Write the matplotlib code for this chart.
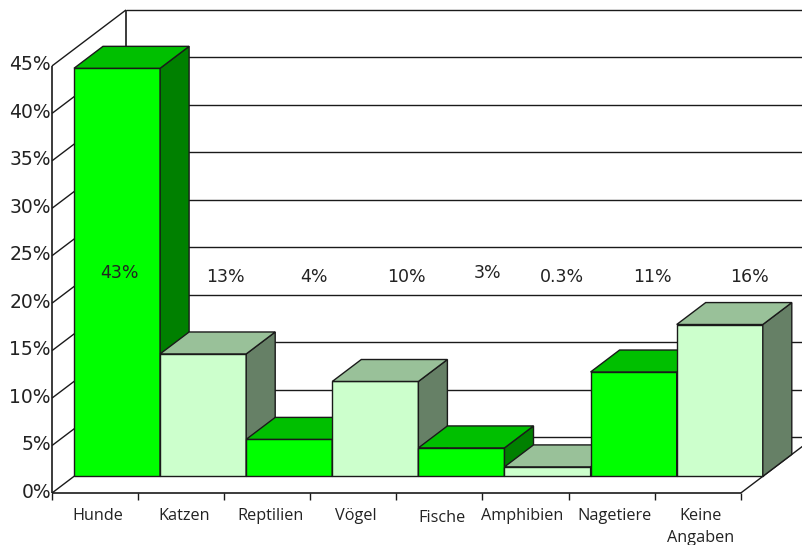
#!/usr/bin/env python3
"""Oblique 3D bar chart of pets, drawn with plain polygons."""

import matplotlib
matplotlib.use("Agg")
import matplotlib.pyplot as plt
from matplotlib.patches import Polygon

CATEGORIES = ["Hunde", "Katzen", "Reptilien", "Vögel", "Fische", "Amphibien", "Nagetiere", "Keine\nAngaben"]
BAR_VALUES = [43, 12.9, 3.9, 10, 3, 1, 11, 16]
VALUE_LABELS = ["43%", "13%", "4%", "10%", "3%", "0.3%", "11%", "16%"]
Y_TICKS = [0, 5, 10, 15, 20, 25, 30, 35, 40, 45]

COLORS = {
    "front": ["#00ff00", "#ccffcc"],
    "top": ["#00bf00", "#99c199"],
    "side": ["#008000", "#668066"],
    "line": "#1a1a1a",
    "text": "#222222",
}

# layout in pixels of the 803x545 picture
X0, Y0 = 52, 493
STEP_X = 86.1
PX_PER_PCT = 9.49
WALL_DX, WALL_DY = 74, -56
BAR_INSET = 22 / 74
BAR_DEPTH = 29 / 74
TICK_LEN = 7
LABEL_NUDGE = [(-18, -3), (2, 1), (5, 1), (11, 1), (6, -3), (-6, 1), (-1, 1), (10, 1)]
CAT_NUDGE = [(3, 1), (3, 1), (3, 1), (2, 1), (3, 4), (-3, 1), (3, 1), (3, 1)]


def project(cat, value, depth=0.0):
    """cat in category slots, value in percent, depth 0 (front) to 1 (back wall)."""
    x = X0 + cat * STEP_X + depth * WALL_DX
    y = Y0 - value * PX_PER_PCT + depth * WALL_DY
    return x, y


def line(ax, a, b, lw=1.0):
    ax.plot([a[0], b[0]], [a[1], b[1]], color=COLORS["line"], lw=lw,
            solid_capstyle="butt", zorder=1)


def draw_bar(ax, i, value, zorder):
    d0, d1 = BAR_INSET, BAR_INSET + BAR_DEPTH
    shade = i % 2 if i < 6 else (0 if i == 6 else 1)
    faces = [
        ("front", [(i, 0, d0), (i + 1, 0, d0), (i + 1, value, d0), (i, value, d0)]),
        ("side", [(i + 1, 0, d0), (i + 1, 0, d1), (i + 1, value, d1), (i + 1, value, d0)]),
        ("top", [(i, value, d0), (i + 1, value, d0), (i + 1, value, d1), (i, value, d1)]),
    ]
    for name, pts in faces:
        ax.add_patch(Polygon([project(*p) for p in pts], closed=True,
                             facecolor=COLORS[name][shade], edgecolor=COLORS["line"],
                             lw=1.0, zorder=zorder))


def main():
    fig = plt.figure(figsize=(8.03, 5.45), dpi=100)
    ax = fig.add_axes([0, 0, 1, 1])
    ax.set_xlim(0, 803)
    ax.set_ylim(545, 0)
    ax.axis("off")

    n = len(CATEGORIES)
    top = Y_TICKS[-1]

    # walls and gridlines
    for v in Y_TICKS:
        line(ax, project(0, v), project(0, v, 1))
        line(ax, project(0, v, 1), project(n, v, 1))
    line(ax, project(0, 0), project(0, top), lw=1.2)
    line(ax, project(0, 0, 1), project(0, top, 1), lw=1.2)
    line(ax, project(0, 0), project(n, 0), lw=1.2)
    line(ax, project(n, 0), project(n, 0, 1))

    # category ticks
    for i in range(n + 1):
        x, y = project(i, 0)
        line(ax, (x, y), (x, y + TICK_LEN))

    for i, value in enumerate(BAR_VALUES):
        draw_bar(ax, i, value, 2 + i)

    # text
    for v in Y_TICKS:
        x, y = project(0, v)
        ax.text(x - 1, y - 1, f"{v}%", ha="right", va="center", fontsize=13.5,
                color=COLORS["text"], family="DejaVu Sans", zorder=20)
    for i, name in enumerate(CATEGORIES):
        x, y = project(i + 0.5, 0)
        dx, dy = CAT_NUDGE[i]
        ax.text(x + dx, y + 13.5 + dy, name, ha="center", va="top", fontsize=11.7,
                color=COLORS["text"], family="Open Sans", linespacing=1.55, zorder=20)
    for i, label in enumerate(VALUE_LABELS):
        x, _ = project(i + 0.5, 0)
        dx, dy = LABEL_NUDGE[i]
        ax.text(x + 42 + dx, 276 + dy, label, ha="center", va="center", fontsize=12.5,
                color=COLORS["text"], family="DejaVu Sans", zorder=30)

    fig.savefig("out.png", dpi=100, facecolor="white")
    plt.close(fig)


if __name__ == "__main__":
    main()
